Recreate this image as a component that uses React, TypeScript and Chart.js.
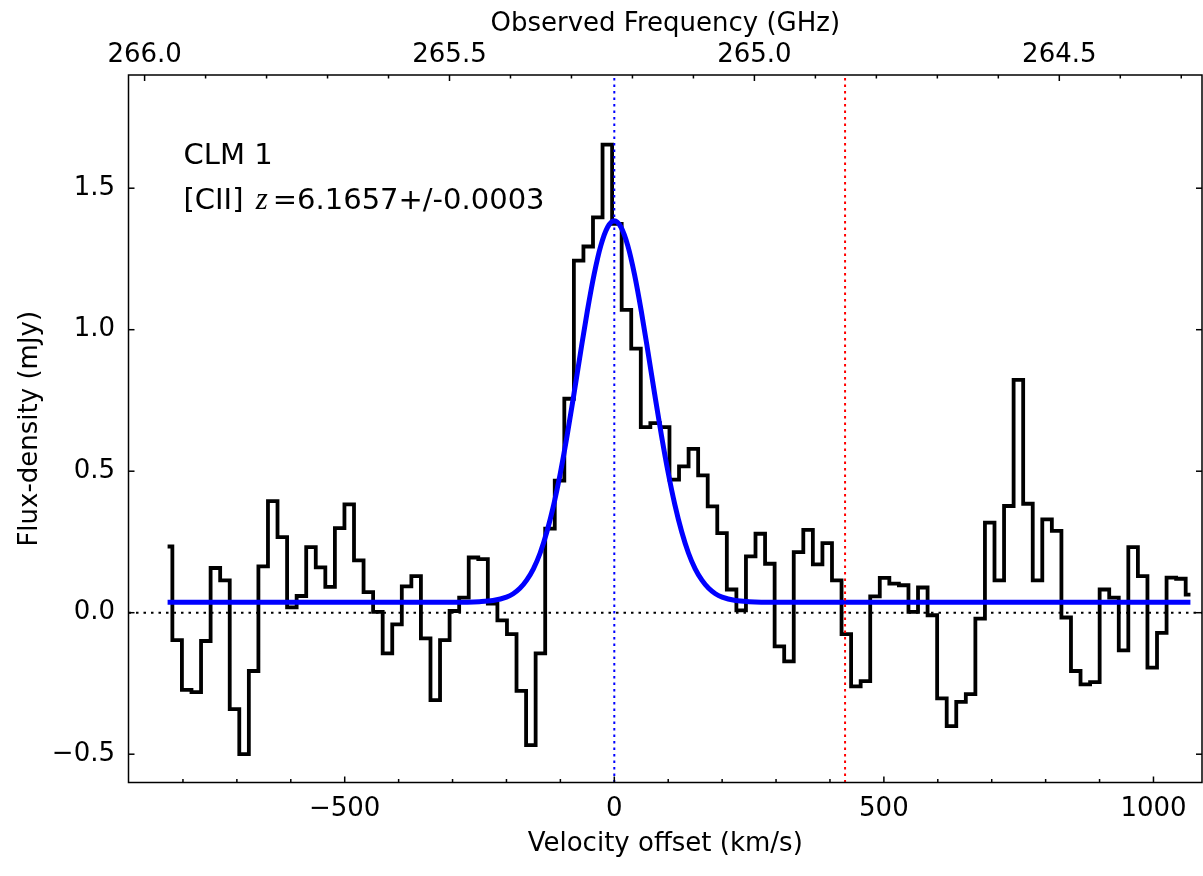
import React, { useEffect, useRef } from 'react';
import { Chart, registerables } from 'chart.js';

Chart.register(...registerables);

// Observed spectrum: flux density (mJy) per channel
const flux = [
  0.234, -0.097, -0.273, -0.281, -0.100, 0.158, 0.114, -0.341, -0.500, -0.206,
  0.164, 0.394, 0.267, 0.019, 0.059, 0.232, 0.160, 0.091, 0.299, 0.383,
  0.185, 0.073, 0.003, -0.144, -0.041, 0.093, 0.129, -0.091, -0.309, -0.097,
  0.006, 0.053, 0.195, 0.189, 0.032, -0.027, -0.076, -0.276, -0.468, -0.144,
  0.297, 0.467, 0.756, 1.244, 1.294, 1.397, 1.654, 1.374, 1.070, 0.933,
  0.656, 0.670, 0.656, 0.470, 0.517, 0.579, 0.485, 0.376, 0.281, 0.082,
  0.008, 0.199, 0.279, 0.173, -0.119, -0.172, 0.214, 0.293, 0.171, 0.246,
  0.114, -0.076, -0.260, -0.242, 0.058, 0.123, 0.103, 0.097, 0.003, 0.089,
  -0.009, -0.303, -0.401, -0.315, -0.288, -0.021, 0.318, 0.114, 0.377, 0.823,
  0.385, 0.114, 0.330, 0.289, -0.017, -0.206, -0.253, -0.245, 0.082, 0.053,
  -0.133, 0.232, 0.129, -0.194, -0.071, 0.124, 0.120, 0.064,
];

// Channel grid (km/s): first channel centre and channel width
const CHANNEL_V0 = -828.5;
const CHANNEL_DV = 17.73;
const velocity = flux.map((_, i) => CHANNEL_V0 + i * CHANNEL_DV);

// Gaussian fit curve, sampled (km/s, mJy)
const modelVelocity = [
  -828.5, -300, -250, -225, -200, -187.5, -175, -162.5, -150, -137.5, -125, -112.5,
  -100, -87.5, -75, -62.5, -50, -37.5, -25, -12.5, 0, 12.5, 25, 37.5, 50, 62.5, 75,
  87.5, 100, 112.5, 125, 137.5, 150, 162.5, 175, 187.5, 200, 225, 250, 300, 1068.5,
];
const modelFlux = [
  0.037, 0.037, 0.039, 0.043, 0.055, 0.067, 0.086, 0.115, 0.155, 0.211, 0.286, 0.380,
  0.494, 0.626, 0.771, 0.921, 1.066, 1.195, 1.297, 1.362, 1.385, 1.362, 1.297, 1.195, 1.066, 0.921, 0.771,
  0.626, 0.494, 0.380, 0.286, 0.211, 0.155, 0.115, 0.086, 0.067, 0.055, 0.043, 0.039, 0.037, 0.037,
];

const systemicVelocity = 0;
const markerVelocity = 428;

const velocityRange = [-901, 1090];
const fluxRange = [-0.6, 1.9];
const freqRange = [264.266, 266.0264];

const velocityMajorTicks = [-500, 0, 500, 1000];
const velocityMinorTicks = [-800, -700, -600, -400, -300, -200, -100, 100, 200, 300, 400, 600, 700, 800, 900];
const freqMajorTicks = [266.0, 265.5, 265.0, 264.5];
const freqMinorTicks = [265.9, 265.8, 265.7, 265.6, 265.4, 265.3, 265.2, 265.1, 264.9, 264.8, 264.7, 264.6, 264.4, 264.3];
const fluxMajorTicks = [-0.5, 0.0, 0.5, 1.0, 1.5];

const annotationName = 'CLM 1';
const annotationPrefix = '[CII] ';
const annotationVar = 'z';
const annotationSuffix = '=6.1657+/-0.0003';

const FAMILY = "'DejaVu Sans', sans-serif";

const signed = (v: number, digits?: number) => {
  const s = digits === undefined ? String(Math.abs(v)) : Math.abs(v).toFixed(digits);
  return (v < 0 ? '\u2212' : '') + s;
};

const setTicks = (values: number[]) => (s: any) => {
  s.ticks = values.map((value) => ({ value }));
};

const framePlugin = {
  id: 'frame',
  afterDatasetsDraw(chart: any) {
    const { ctx, chartArea, scales } = chart;
    const { left, right, top, bottom } = chartArea;
    ctx.save();
    ctx.strokeStyle = '#000';
    ctx.lineWidth = 1.5;
    const seg = (x1: number, y1: number, x2: number, y2: number) => {
      ctx.beginPath();
      ctx.moveTo(x1, y1);
      ctx.lineTo(x2, y2);
      ctx.stroke();
    };
    const MAJ = 6;
    const MIN = 3.5;
    velocityMajorTicks.forEach((v) => {
      const px = scales.x.getPixelForValue(v);
      seg(px, bottom, px, bottom - MAJ);
    });
    velocityMinorTicks.forEach((v) => {
      const px = scales.x.getPixelForValue(v);
      seg(px, bottom, px, bottom - MIN);
    });
    freqMajorTicks.forEach((f) => {
      const px = scales.x2.getPixelForValue(f);
      seg(px, top, px, top + MAJ);
    });
    freqMinorTicks.forEach((f) => {
      const px = scales.x2.getPixelForValue(f);
      seg(px, top, px, top + MIN);
    });
    fluxMajorTicks.forEach((y) => {
      const py = scales.y.getPixelForValue(y);
      seg(left, py, left + MAJ, py);
      seg(right, py, right - MAJ, py);
    });
    ctx.strokeRect(left, top, right - left, bottom - top);
    ctx.restore();
  },
  afterDraw(chart: any) {
    const { ctx, chartArea } = chart;
    ctx.save();
    ctx.fillStyle = '#000';
    ctx.textBaseline = 'alphabetic';
    ctx.textAlign = 'left';
    const x0 = chartArea.left + 55;
    ctx.font = `29px ${FAMILY}`;
    ctx.fillText(annotationName, x0, chartArea.top + 88.5);
    const y2 = chartArea.top + 133.5;
    let x = x0;
    ctx.fillText(annotationPrefix, x, y2);
    x += ctx.measureText(annotationPrefix).width + 3;
    ctx.font = `italic 31px 'Liberation Serif', serif`;
    ctx.fillText(annotationVar, x, y2);
    x += ctx.measureText(annotationVar).width + 5;
    ctx.font = `29px ${FAMILY}`;
    ctx.fillText(annotationSuffix, x, y2);
    ctx.restore();
  },
};

export default function App() {
  const canvasRef = useRef<HTMLCanvasElement | null>(null);

  useEffect(() => {
    const canvas = canvasRef.current;
    if (!canvas) return;
    const tickFont = { family: FAMILY, size: 26 };
    const titleFont = { family: FAMILY, size: 26 };
    const noGrid = { display: false, drawTicks: false, drawOnChartArea: false };
    const chart = new Chart(canvas, {
      type: 'line',
      data: {
        datasets: [
          {
            label: 'systemic',
            data: [
              { x: systemicVelocity, y: fluxRange[0] },
              { x: systemicVelocity, y: fluxRange[1] },
            ],
            borderColor: '#0000ff',
            borderWidth: 2,
            borderDash: [2.5, 4],
            pointRadius: 0,
            order: 1,
          },
          {
            label: 'marker',
            data: [
              { x: markerVelocity, y: fluxRange[0] },
              { x: markerVelocity, y: fluxRange[1] },
            ],
            borderColor: '#ff0000',
            borderWidth: 2,
            borderDash: [2.5, 4],
            pointRadius: 0,
            order: 2,
          },
          {
            label: 'fit',
            data: modelVelocity.map((v, i) => ({ x: v, y: modelFlux[i] })),
            borderColor: '#0000ff',
            borderWidth: 5,
            cubicInterpolationMode: 'monotone',
            pointRadius: 0,
            order: 3,
          },
          {
            label: 'spectrum',
            data: velocity.map((v, i) => ({ x: v, y: flux[i] })),
            borderColor: '#000000',
            borderWidth: 3.8,
            stepped: 'middle',
            borderJoinStyle: 'miter',
            pointRadius: 0,
            order: 4,
          },
          {
            label: 'zero',
            data: [
              { x: velocityRange[0], y: 0 },
              { x: velocityRange[1], y: 0 },
            ],
            borderColor: '#000000',
            borderWidth: 2,
            borderDash: [2.5, 5],
            pointRadius: 0,
            order: 5,
          },
        ],
      } as any,
      options: {
        responsive: false,
        animation: false,
        events: [],
        layout: { padding: { left: 0, right: 1, top: 0, bottom: 0 } },
        plugins: { legend: { display: false }, tooltip: { enabled: false } },
        scales: {
          x: {
            type: 'linear',
            position: 'bottom',
            min: velocityRange[0],
            max: velocityRange[1],
            afterBuildTicks: setTicks(velocityMajorTicks),
            afterFit: (s: any) => {
              s.height = 93.5;
            },
            grid: noGrid,
            border: { display: false },
            ticks: {
              autoSkip: false,
              maxRotation: 0,
              minRotation: 0,
              padding: 11.4,
              color: '#000',
              font: tickFont,
              callback: (v: any) => signed(Number(v)),
            },
            title: {
              display: true,
              text: 'Velocity offset (km/s)',
              color: '#000',
              font: titleFont,
              padding: { top: 0, bottom: 15.9 },
            },
          },
          x2: {
            type: 'linear',
            axis: 'x',
            position: 'top',
            reverse: true,
            min: freqRange[0],
            max: freqRange[1],
            afterBuildTicks: setTicks(freqMajorTicks),
            afterFit: (s: any) => {
              s.height = 75;
            },
            grid: noGrid,
            border: { display: false },
            ticks: {
              autoSkip: false,
              maxRotation: 0,
              minRotation: 0,
              padding: 4.4,
              color: '#000',
              font: tickFont,
              callback: (v: any) => Number(v).toFixed(1),
            },
            title: {
              display: true,
              text: 'Observed Frequency (GHz)',
              color: '#000',
              font: titleFont,
              padding: { top: 8.9, bottom: 0 },
            },
          },
          y: {
            type: 'linear',
            position: 'left',
            min: fluxRange[0],
            max: fluxRange[1],
            afterBuildTicks: setTicks(fluxMajorTicks),
            afterFit: (s: any) => {
              s.width = 128.5;
            },
            grid: noGrid,
            border: { display: false },
            ticks: {
              autoSkip: false,
              padding: 13.5,
              color: '#000',
              font: tickFont,
              callback: (v: any) => signed(Number(v), 1),
            },
            title: {
              display: true,
              text: 'Flux-density (mJy)',
              color: '#000',
              font: titleFont,
              padding: { top: 14.4, bottom: 0 },
            },
          },
        },
      } as any,
      plugins: [framePlugin],
    });
    return () => chart.destroy();
  }, []);

  return (
    <div style={{ position: 'fixed', left: 0, top: 0, width: 1203, height: 876, background: '#fff' }}>
      <canvas ref={canvasRef} width={1203} height={876} style={{ width: '1203px', height: '876px', display: 'block' }} />
    </div>
  );
}
